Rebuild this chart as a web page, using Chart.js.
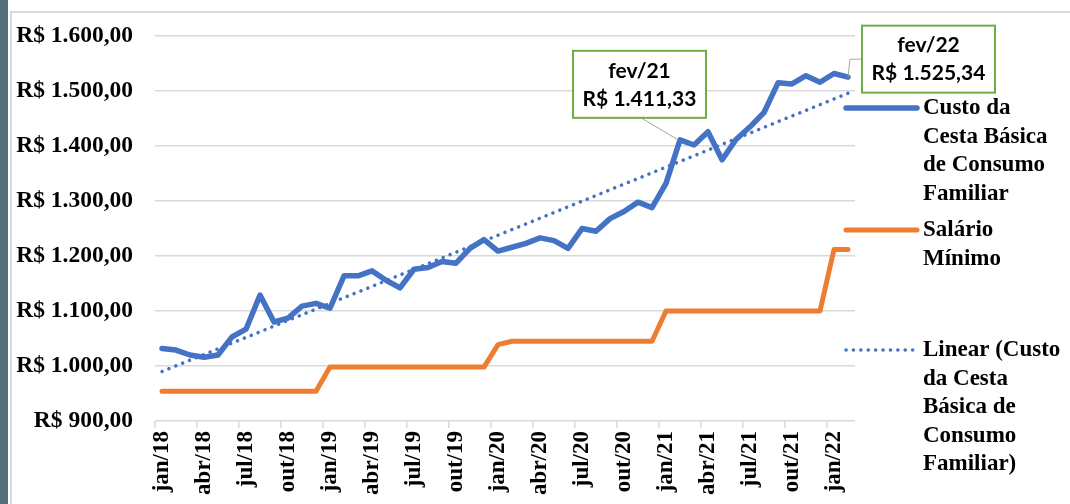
<!DOCTYPE html>
<html>
<head>
<meta charset="utf-8">
<script src="https://cdn.jsdelivr.net/npm/chart.js@4"></script>
<style>
  body { margin: 0; background: #fff; width: 1070px; height: 504px; overflow: hidden; position: relative; }
  #faixa { position: absolute; left: 0; top: 0; width: 8px; height: 504px; background: #52707a; }
  #moldura { position: absolute; left: 10px; top: 11px; width: 1070px; height: 500px; border-top: 2px solid #d9d9d9; border-left: 2px solid #d9d9d9; }
  canvas { position: absolute; left: 0; top: 0; }
</style>
</head>
<body>
<div id="faixa"></div>
<div id="moldura"></div>
<canvas id="grafico" width="1070" height="504"></canvas>
<script>
const categorias = [
  'jan/18','fev/18','mar/18','abr/18','mai/18','jun/18','jul/18','ago/18','set/18','out/18','nov/18','dez/18',
  'jan/19','fev/19','mar/19','abr/19','mai/19','jun/19','jul/19','ago/19','set/19','out/19','nov/19','dez/19',
  'jan/20','fev/20','mar/20','abr/20','mai/20','jun/20','jul/20','ago/20','set/20','out/20','nov/20','dez/20',
  'jan/21','fev/21','mar/21','abr/21','mai/21','jun/21','jul/21','ago/21','set/21','out/21','nov/21','dez/21',
  'jan/22','fev/22'
];

const custoCesta = [
  1032, 1029, 1020, 1016, 1020, 1053, 1067, 1129, 1080, 1087, 1109, 1114,
  1105, 1164, 1164, 1173, 1156, 1142, 1176, 1179, 1190, 1187, 1214, 1230,
  1209, 1216, 1223, 1233, 1228, 1214, 1250, 1245, 1268, 1281, 1298, 1288,
  1332, 1411.33, 1402, 1426, 1375, 1412, 1435, 1461, 1515, 1513, 1528, 1516,
  1532, 1525.34
];

const salarioMinimo = [
  954, 954, 954, 954, 954, 954, 954, 954, 954, 954, 954, 954,
  998, 998, 998, 998, 998, 998, 998, 998, 998, 998, 998, 998,
  1039, 1045, 1045, 1045, 1045, 1045, 1045, 1045, 1045, 1045, 1045, 1045,
  1100, 1100, 1100, 1100, 1100, 1100, 1100, 1100, 1100, 1100, 1100, 1100,
  1212, 1212
];

// trend line (Excel linear trendline), ends
const tendenciaInicio = 990;
const tendenciaFim = 1496;

const destaqueMeses = ['fev/21', 'fev/22'];

const legendaTextos = [
  ['Custo da', 'Cesta Básica', 'de Consumo', 'Familiar'],
  ['Salário', 'Mínimo'],
  ['Linear (Custo', 'da Cesta', 'Básica de', 'Consumo', 'Familiar)']
];

const serif = '"Liberation Serif", "Times New Roman", serif';
const sans = 'Lato, "Open Sans", sans-serif';

const fmtReal = v => {
  const [inteiro, dec] = Number(v).toFixed(2).split('.');
  return 'R$ ' + inteiro.replace(/\B(?=(\d{3})+(?!\d))/g, '.') + ',' + dec;
};

// side legend with wrapped text
const legendaLateral = {
  id: 'legendaLateral',
  afterDraw(chart) {
    const { ctx, chartArea } = chart;
    const x0 = chartArea.right - 9;
    const topos = [72, 194, 314];
    ctx.save();
    ctx.font = 'bold 23px ' + serif;
    ctx.textBaseline = 'middle';
    ctx.textAlign = 'left';
    legendaTextos.forEach((linhas, k) => {
      const ds = chart.data.datasets[k];
      const y = chartArea.top + topos[k];
      ctx.beginPath();
      ctx.setLineDash(ds.borderDash || []);
      ctx.lineCap = ds.borderCapStyle || 'round';
      ctx.lineWidth = ds.borderWidth;
      ctx.strokeStyle = ds.borderColor;
      ctx.moveTo(x0, y);
      ctx.lineTo(x0 + 71, y);
      ctx.stroke();
      ctx.setLineDash([]);
      ctx.fillStyle = '#000';
      linhas.forEach((t, j) => ctx.fillText(t, x0 + 77, y + j * 28.5));
    });
    ctx.restore();
  }
};

// data callouts for fev/21 and fev/22
const destaques = {
  id: 'destaques',
  afterDatasetsDraw(chart) {
    const { ctx } = chart;
    const meta = chart.getDatasetMeta(0);
    const caixas = [
      { dx: -40.5, dy: -55.5, lider: 'baixo' },
      { dx: 80.5, dy: -18, lider: 'esquerda' }
    ];
    destaqueMeses.forEach((mes, k) => {
      const i = categorias.indexOf(mes);
      const pt = meta.data[i];
      const c = caixas[k];
      const w = 133, h = 67;
      const cx = pt.x + c.dx, cy = pt.y + c.dy;
      const left = cx - w / 2, top = cy - h / 2;
      ctx.save();
      ctx.strokeStyle = '#a5a5a5';
      ctx.lineWidth = 1;
      ctx.beginPath();
      if (c.lider === 'baixo') {
        ctx.moveTo(cx + 1.5, top + h);
        ctx.lineTo(pt.x - 2, pt.y);
      } else {
        ctx.moveTo(left, cy);
        ctx.lineTo(pt.x + 2, cy);
        ctx.lineTo(pt.x, pt.y);
      }
      ctx.stroke();
      ctx.fillStyle = '#fff';
      ctx.fillRect(left, top, w, h);
      ctx.strokeStyle = '#70ad47';
      ctx.lineWidth = 2;
      ctx.strokeRect(left, top, w, h);
      ctx.fillStyle = '#000';
      ctx.font = 'bold 21px ' + sans;
      ctx.textAlign = 'center';
      ctx.textBaseline = 'middle';
      ctx.fillText(mes, cx, top + 20);
      ctx.fillText(fmtReal(custoCesta[i]), cx, top + 48);
      ctx.restore();
    });
  }
};

const ctx = document.getElementById('grafico').getContext('2d');

const grafico = new Chart(ctx, {
  type: 'line',
  data: {
    labels: categorias,
    datasets: [{
      label: 'Custo da Cesta Básica de Consumo Familiar',
      data: custoCesta,
      borderColor: '#4472c4',
      borderWidth: 5.5,
      borderJoinStyle: 'round',
      borderCapStyle: 'round',
      pointRadius: 0,
      tension: 0
    }, {
      label: 'Salário Mínimo',
      data: salarioMinimo,
      borderColor: '#ed7d31',
      borderWidth: 5,
      borderJoinStyle: 'round',
      borderCapStyle: 'round',
      pointRadius: 0,
      tension: 0
    }, {
      label: 'Linear (Custo da Cesta Básica de Consumo Familiar)',
      data: [
        { x: categorias[0], y: tendenciaInicio },
        { x: categorias[categorias.length - 1], y: tendenciaFim }
      ],
      borderColor: '#4472c4',
      borderWidth: 3.5,
      borderDash: [0.1, 7.3],
      borderCapStyle: 'round',
      pointRadius: 0,
      order: -1
    }]
  },
  options: {
    responsive: false,
    devicePixelRatio: 1,
    animation: false,
    layout: { padding: { left: 0, top: 36, right: 215, bottom: 0 } },
    plugins: {
      legend: { display: false },
      tooltip: { enabled: false }
    },
    scales: {
      x: {
        offset: true,
        ticks: {
          autoSkip: false,
          minRotation: 90,
          maxRotation: 90,
          padding: 3,
          color: '#000',
          font: { family: serif, size: 23, weight: 'bold' },
          callback: (v, i) => i % 3 === 0 ? categorias[i] : ''
        },
        grid: {
          offset: true,
          drawOnChartArea: false,
          tickLength: 7,
          lineWidth: 1.5,
          color: c => c.index % 3 === 0 ? '#d9d9d9' : 'rgba(0,0,0,0)'
        },
        border: { display: false },
        afterFit: s => { s.height = 83; }
      },
      y: {
        min: 900,
        max: 1600,
        ticks: {
          stepSize: 100,
          padding: 22,
          color: '#000',
          font: { family: serif, size: 23.5, weight: 'bold' },
          callback: v => fmtReal(v)
        },
        grid: { color: '#d9d9d9', lineWidth: 1.5, drawTicks: false },
        border: { display: false },
        afterFit: s => { s.width = 155; }
      }
    }
  },
  plugins: [destaques, legendaLateral]
});
</script>
</body>
</html>
